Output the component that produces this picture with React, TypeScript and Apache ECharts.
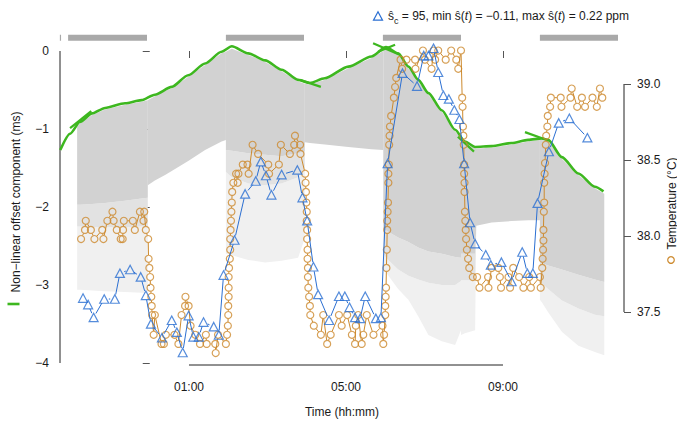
import { useEffect, useRef } from "react";
import * as echarts from "echarts";

// ---------- axes (time in hours; negative = previous evening) ----------
const X_MIN = -2.2866;
const X_MAX = 12.0828;
const OFFSET_MIN = -4;
const OFFSET_MAX = 0.3;
const TEMP_MIN = 37.1645;
const TEMP_MAX = 39.371;
const PPM_MIN = -0.1214;
const PPM_MAX = 0.2424;

const timeTickValues = [1, 5, 9];
const timeTickLabels = ["01:00", "05:00", "09:00"];
const offsetTickValues = [0, -1, -2, -3, -4];
const offsetTickLabels = ["0", "−1", "−2", "−3", "−4"];
const tempTickValues = [37.5, 38, 38.5, 39];
const tempTickLabels = ["37.5", "38.0", "38.5", "39.0"];

// ---------- dark periods (top bars) ----------
const darkPeriods: [number, number][] = [
  [-2.29, -2.26], [-2.08, -0.07], [1.94, 3.93], [5.94, 7.93], [9.94, 11.93],
];
const DARK_BAR_LEVEL = 0.17;

// ---------- non-linear offset component (ms) ----------
const fitCurve: [number, number][] = [
  [-2.28, -1.27], [-2.03, -1.06], [-1.78, -0.91], [-1.47, -0.8], [-1.14, -0.73],
  [-0.63, -0.67], [-0.21, -0.63], [0.13, -0.56], [0.56, -0.46], [0.98, -0.31],
  [1.41, -0.16], [1.83, -0.01], [2.09, 0.06], [2.51, -0.03], [2.94, -0.12],
  [3.36, -0.24], [3.78, -0.37], [4.08, -0.41], [4.46, -0.35], [5.06, -0.2],
  [5.65, -0.07], [6.02, 0.05], [6.33, -0.03], [6.59, -0.2], [6.84, -0.37],
  [7.1, -0.54], [7.44, -0.76], [7.78, -1.01], [8.03, -1.16], [8.29, -1.23],
  [8.71, -1.22], [9.22, -1.18], [9.64, -1.14], [9.99, -1.12], [10.15, -1.14],
  [10.5, -1.36], [10.92, -1.57], [11.34, -1.74], [11.56, -1.8],
];
// segment ends overshooting the joins: [t1, v1, t2, v2]
const fitOvershoots: [number, number, number, number][] = [
  [-2.03, -0.99, -1.49, -0.77],
  [3.83, -0.37, 4.36, -0.46],
  [5.69, 0.1, 6.38, -0.05],
  [5.82, -0.01, 6.25, 0.08],
  [7.85, -1.1, 8.26, -1.29],
  [9.56, -1.04, 10.17, -1.15],
];

// ---------- cloud of offset samples (ms), one list per 2-h block ----------
// rows: [time, cloud top, bottom of dense part, bottom of medium part, bottom of sparse part]
const cloudBlock1 = [
  [-1.85, -0.97, -1.97, -2.25, -3.06], [-1.78, -0.93, -1.97, -2.25, -3.06], [-1.47, -0.82, -1.96, -2.26, -3.07],
  [-1.14, -0.75, -1.95, -2.26, -3.08], [-0.63, -0.69, -1.92, -2.26, -3.09], [-0.21, -0.65, -1.89, -2.25, -3.1],
  [-0.05, -0.63, -1.88, -2.25, -3.1],
];
const cloudBlock2 = [
  [-0.05, -0.63, -1.72, -1.72, -1.72], [0.13, -0.58, -1.66, -1.66, -1.66], [0.39, -0.51, -1.59, -1.59, -1.59],
  [0.56, -0.48, -1.54, -1.54, -1.54], [0.98, -0.33, -1.41, -1.41, -1.41], [1.41, -0.18, -1.27, -1.27, -1.27],
  [1.83, -0.03, -1.16, -1.16, -1.16], [1.94, -0.01, -1.14, -1.14, -1.14],
];
const cloudBlock3 = [
  [1.94, -0.01, -1.27, -1.55, -2.6], [2.09, 0.03, -1.28, -1.62, -2.62], [2.51, -0.05, -1.31, -1.7, -2.68],
  [2.94, -0.14, -1.33, -1.72, -2.71], [3.36, -0.26, -1.35, -1.7, -2.69], [3.78, -0.39, -1.31, -1.62, -2.65],
  [3.95, -0.42, -1.29, -1.5, -2.4],
];
const cloudBlock4 = [
  [3.95, -0.42, -1.17, -1.17, -1.17], [4.08, -0.43, -1.18, -1.18, -1.18], [4.46, -0.37, -1.2, -1.2, -1.2],
  [5.06, -0.22, -1.23, -1.23, -1.23], [5.65, -0.09, -1.26, -1.26, -1.26], [5.95, 0.0, -1.27, -1.27, -1.27],
];
const cloudBlock5 = [
  [5.95, 0.0, -2.29, -2.6, -2.81], [6.02, 0.02, -2.3, -2.65, -2.84], [6.33, -0.05, -2.39, -2.8, -3.05],
  [6.59, -0.22, -2.45, -2.88, -3.19], [6.84, -0.39, -2.52, -2.93, -3.4], [7.1, -0.56, -2.57, -2.97, -3.64],
  [7.44, -0.78, -2.6, -3.0, -3.72], [7.78, -1.03, -2.64, -3.0, -3.77], [7.93, -1.12, -2.65, -2.95, -3.58],
];
const cloudBlock6 = [
  [7.93, -1.12, -2.6, -2.94, -3.64], [8.03, -1.18, -2.6, -2.94, -3.62], [8.29, -1.25, -2.6, -2.94, -3.58],
  [8.32, -1.25, -2.24, -2.24, -2.24], [8.71, -1.24, -2.2, -2.2, -2.2], [9.22, -1.2, -2.18, -2.18, -2.18],
  [9.64, -1.16, -2.17, -2.17, -2.17], [9.94, -1.14, -2.17, -2.17, -2.17],
];
const cloudBlock7 = [
  [9.94, -1.14, -2.71, -2.95, -3.19], [9.99, -1.14, -2.72, -2.98, -3.22], [10.15, -1.16, -2.75, -3.05, -3.35],
  [10.5, -1.38, -2.8, -3.2, -3.6], [10.92, -1.59, -2.87, -3.3, -3.78], [11.34, -1.76, -2.93, -3.38, -3.86],
  [11.58, -1.83, -2.96, -3.4, -3.9],
];
const cloudBlocks = [cloudBlock1, cloudBlock2, cloudBlock3, cloudBlock4, cloudBlock5, cloudBlock6, cloudBlock7];

// ---------- temperature (°C) ----------
const temperature: [number, number][] = [
  [-1.75, 37.98], [-1.65, 38.04], [-1.63, 38.1], [-1.5, 38.04], [-1.41, 37.98],
  [-1.21, 38.04], [-1.18, 37.98], [-1.08, 38.1], [-0.95, 38.16], [-0.92, 38.1],
  [-0.84, 38.04], [-0.74, 37.98], [-0.69, 37.98], [-0.68, 38.04], [-0.66, 38.1],
  [-0.43, 38.1], [-0.38, 38.04], [-0.25, 38.16], [-0.16, 38.1], [-0.14, 38.16],
  [-0.1, 38.04], [-0.04, 37.98], [-0.03, 37.85], [-0.01, 37.79], [0.01, 37.73],
  [0.02, 37.66], [0.04, 37.6], [0.05, 37.54], [0.06, 37.48], [0.1, 37.35],
  [0.13, 37.48], [0.3, 37.29], [0.36, 37.29], [0.41, 37.35], [0.63, 37.35],
  [0.73, 37.29], [0.81, 37.48], [0.9, 37.54], [0.91, 37.6], [0.99, 37.54],
  [1.04, 37.41], [1.16, 37.35], [1.28, 37.29], [1.43, 37.35], [1.45, 37.29],
  [1.67, 37.29], [1.68, 37.23], [1.74, 37.35], [1.94, 37.29], [1.97, 37.35],
  [1.99, 37.41], [2.0, 37.48], [2.0, 37.54], [2.01, 37.6], [2.01, 37.66],
  [2.01, 37.73], [2.02, 37.79], [2.04, 37.85], [2.05, 37.91], [2.05, 37.98],
  [2.06, 38.04], [2.07, 38.1], [2.08, 38.16], [2.09, 38.22], [2.1, 38.29],
  [2.13, 38.35], [2.2, 38.41], [2.24, 38.35], [2.26, 38.41], [2.37, 38.47],
  [2.49, 38.47], [2.52, 38.41], [2.62, 38.6], [2.76, 38.54], [3.02, 38.47],
  [3.04, 38.41], [3.29, 38.47], [3.34, 38.6], [3.57, 38.54], [3.68, 38.6],
  [3.7, 38.66], [3.83, 38.6], [3.84, 38.54], [3.96, 38.41], [3.97, 38.35],
  [3.98, 38.29], [3.99, 38.22], [4.0, 38.16], [4.0, 38.1], [4.01, 38.04],
  [4.01, 37.98], [4.02, 37.91], [4.02, 37.85], [4.03, 37.79], [4.03, 37.73],
  [4.04, 37.66], [4.06, 37.6], [4.08, 37.54], [4.09, 37.48], [4.18, 37.41],
  [4.36, 37.35], [4.42, 37.48], [4.52, 37.29], [4.61, 37.35], [4.82, 37.48],
  [4.89, 37.41], [5.03, 37.48], [5.15, 37.35], [5.23, 37.29], [5.25, 37.41],
  [5.31, 37.48], [5.4, 37.29], [5.44, 37.35], [5.53, 37.48], [5.7, 37.35],
  [5.93, 37.41], [5.95, 37.29], [5.97, 37.35], [6.0, 37.48], [6.0, 37.54],
  [6.01, 37.6], [6.02, 37.66], [6.03, 37.79], [6.04, 37.91], [6.05, 38.04],
  [6.05, 38.1], [6.06, 38.16], [6.07, 38.22], [6.08, 38.35], [6.08, 38.41],
  [6.09, 38.47], [6.1, 38.6], [6.11, 38.66], [6.12, 38.72], [6.15, 38.79],
  [6.22, 38.91], [6.25, 38.98], [6.28, 39.04], [6.39, 39.16], [6.43, 39.1],
  [6.54, 39.16], [6.76, 39.16], [6.77, 39.1], [6.96, 39.22], [7.01, 39.16],
  [7.18, 39.1], [7.23, 39.22], [7.27, 39.16], [7.35, 39.22], [7.54, 39.16],
  [7.68, 39.22], [7.81, 39.16], [7.86, 39.1], [7.93, 39.22], [7.96, 38.91],
  [7.97, 38.85], [7.98, 38.72], [7.99, 38.66], [8.0, 38.6], [8.01, 38.47],
  [8.01, 38.41], [8.02, 38.35], [8.02, 38.29], [8.03, 38.16], [8.04, 38.1],
  [8.05, 38.04], [8.06, 37.98], [8.08, 37.91], [8.11, 37.85], [8.14, 37.79],
  [8.23, 37.73], [8.34, 37.73], [8.4, 37.66], [8.62, 37.73], [8.63, 37.66],
  [8.71, 37.79], [8.88, 37.79], [8.92, 37.73], [8.95, 37.66], [9.14, 37.73],
  [9.18, 37.66], [9.26, 37.79], [9.41, 37.73], [9.52, 37.66], [9.67, 37.73],
  [9.71, 37.66], [9.94, 37.73], [9.96, 37.66], [10.0, 37.79], [10.01, 37.85],
  [10.02, 37.91], [10.03, 37.97], [10.03, 38.04], [10.04, 38.16], [10.05, 38.22],
  [10.05, 38.35], [10.06, 38.41], [10.07, 38.48], [10.09, 38.6], [10.1, 38.66],
  [10.13, 38.72], [10.14, 38.79], [10.2, 38.85], [10.22, 38.91], [10.47, 38.91],
  [10.49, 38.85], [10.72, 38.91], [10.75, 38.97], [10.89, 38.85], [11.01, 38.91],
  [11.09, 38.85], [11.28, 38.91], [11.39, 38.85], [11.47, 38.97], [11.53, 38.91],
];

// ---------- ŝ(t) (ppm) ----------
const sHat: [number, number][] = [
  [-1.7, -0.051], [-1.57, -0.058], [-1.43, -0.072], [-1.16, -0.052], [-0.89, -0.052],
  [-0.76, -0.024], [-0.5, -0.02], [-0.23, -0.028], [-0.1, -0.048], [0.03, -0.079],
  [0.31, -0.094], [0.56, -0.075], [0.69, -0.088], [0.84, -0.11], [0.99, -0.07],
  [1.11, -0.093], [1.25, -0.093], [1.37, -0.077], [1.63, -0.082], [1.76, -0.091],
  [1.88, -0.026], [2.16, 0.012], [2.43, 0.062], [2.7, 0.076], [2.83, 0.097],
  [2.96, 0.082], [3.1, 0.061], [3.36, 0.083], [3.76, 0.088], [3.89, 0.058],
  [4.01, 0.033], [4.17, -0.017], [4.29, -0.047], [4.57, -0.075], [4.82, -0.049],
  [4.97, -0.049], [5.09, -0.061], [5.23, -0.072], [5.36, -0.073], [5.49, -0.049],
  [5.76, -0.073], [5.89, -0.072], [6.06, 0.095], [6.44, 0.193], [6.81, 0.179],
  [6.98, 0.212], [7.1, 0.212], [7.23, 0.22], [7.35, 0.194], [7.48, 0.169],
  [7.62, 0.165], [7.76, 0.153], [7.89, 0.143], [8.01, 0.095], [8.16, 0.031],
  [8.29, 0.008], [8.56, -0.004], [8.69, -0.015], [8.96, -0.012], [9.22, -0.033],
  [9.49, -0.001], [9.62, -0.024], [9.76, -0.024], [9.88, 0.052], [10.17, 0.108],
  [10.42, 0.139], [10.69, 0.144], [11.15, 0.123],
];

const GREEN = "#3db71f";
const BLUE = "#2b6fd2";
const ORANGE = "#cd8a2e";
const FONT = "'Liberation Sans', Arial, Helvetica, sans-serif";
const TEXT = "#1a1a1a";

const pairs = (pts: [number, number][]) => {
  const out: number[][] = [];
  for (let i = 0; i < pts.length - 1; i++) out.push([pts[i][0], pts[i][1], pts[i + 1][0], pts[i + 1][1]]);
  return out;
};

// line segments with gaps around the symbols (R type = "b")
const gapLineSeries = (pts: [number, number][], yAxisIndex: number, color: string, gap: number, z: number) => ({
  type: "custom",
  yAxisIndex,
  z,
  silent: true,
  clip: false,
  data: pairs(pts),
  encode: { x: [0, 2], y: [1, 3] },
  renderItem: (_p: any, api: any) => {
    const a = api.coord([api.value(0), api.value(1)]);
    const b = api.coord([api.value(2), api.value(3)]);
    const dx = b[0] - a[0];
    const dy = b[1] - a[1];
    const d = Math.hypot(dx, dy);
    if (d <= 2 * gap + 0.5) return { type: "group", children: [] };
    const ux = dx / d;
    const uy = dy / d;
    return {
      type: "line",
      shape: { x1: a[0] + ux * gap, y1: a[1] + uy * gap, x2: b[0] - ux * gap, y2: b[1] - uy * gap },
      style: { stroke: color, lineWidth: 1, fill: null },
    };
  },
});

// band of one cloud block between two of its columns
const cloudBandSeries = (upper: number, lower: number, fill: string, z: number) => ({
  type: "custom",
  z,
  silent: true,
  clip: false,
  data: cloudBlocks.map((b, i) => [b[0][0], b[0][upper], i]),
  renderItem: (params: any, api: any) => {
    const block = cloudBlocks[params.dataIndex];
    const points: number[][] = [];
    for (const r of block) {
      const c = api.coord([r[0], r[upper]]);
      points.push([c[0], c[1]]);
    }
    for (let i = block.length - 1; i >= 0; i--) {
      const c = api.coord([block[i][0], block[i][lower]]);
      points.push([c[0], c[1]]);
    }
    return { type: "polygon", shape: { points }, style: { fill, stroke: null } };
  },
});

const labelFrom = (values: number[], labels: string[]) => (v: number) => {
  const i = values.findIndex((x) => Math.abs(x - v) < 1e-9);
  return i >= 0 ? labels[i] : "";
};

export default function App() {
  const ref = useRef<HTMLDivElement>(null);

  useEffect(() => {
    document.body.style.margin = "0";
    const chart = echarts.init(ref.current!, null, { renderer: "svg", width: 677, height: 421 });

    const option: any = {
      animation: false,
      grid: { left: 60, right: 53, top: 27.6, bottom: 58 },
      xAxis: {
        type: "value",
        min: X_MIN,
        max: X_MAX,
        offset: 2,
        axisLine: { show: false },
        splitLine: { show: false },
        axisTick: { show: true, length: 7, customValues: timeTickValues, lineStyle: { color: "#555", width: 1 } },
        axisLabel: {
          show: true,
          customValues: timeTickValues,
          margin: 16,
          fontSize: 12,
          fontFamily: FONT,
          color: TEXT,
          formatter: labelFrom(timeTickValues, timeTickLabels),
        },
      },
      yAxis: [
        {
          type: "value",
          min: OFFSET_MIN,
          max: OFFSET_MAX,
          position: "left",
          axisLine: { show: false },
          splitLine: { show: false },
          axisTick: { show: true, length: 7, customValues: offsetTickValues, lineStyle: { color: "#555", width: 1 } },
          axisLabel: {
            show: true,
            customValues: offsetTickValues,
            margin: 11,
            fontSize: 12,
            fontFamily: FONT,
            color: TEXT,
            formatter: labelFrom(offsetTickValues, offsetTickLabels),
          },
        },
        {
          type: "value",
          min: TEMP_MIN,
          max: TEMP_MAX,
          position: "right",
          axisLine: { show: false },
          splitLine: { show: false },
          axisTick: { show: true, length: 7, customValues: tempTickValues, lineStyle: { color: "#555", width: 1 } },
          axisLabel: {
            show: true,
            customValues: tempTickValues,
            margin: 13,
            fontSize: 12,
            fontFamily: FONT,
            color: TEXT,
            formatter: labelFrom(tempTickValues, tempTickLabels),
          },
        },
        { type: "value", min: PPM_MIN, max: PPM_MAX, show: false },
      ],
      series: [
        cloudBandSeries(3, 4, "#f0f0f0", 1),
        cloudBandSeries(2, 3, "#e2e2e2", 1),
        cloudBandSeries(1, 2, "#d2d2d2", 1),
        {
          type: "custom",
          z: 2,
          silent: true,
          clip: false,
          data: darkPeriods.map(([s, e]) => [s, e, DARK_BAR_LEVEL]),
          encode: { x: [0, 1], y: 2 },
          renderItem: (_p: any, api: any) => {
            const a = api.coord([api.value(0), api.value(2)]);
            const b = api.coord([api.value(1), api.value(2)]);
            return { type: "rect", shape: { x: a[0], y: a[1] - 3, width: b[0] - a[0], height: 6 }, style: { fill: "#a9a9a9" } };
          },
        },
        {
          type: "line",
          z: 3,
          silent: true,
          data: fitCurve,
          symbol: "none",
          smooth: 0.25,
          smoothMonotone: "x",
          lineStyle: { color: GREEN, width: 2.6 },
        },
        {
          type: "custom",
          z: 3,
          silent: true,
          data: fitOvershoots,
          encode: { x: [0, 2], y: [1, 3] },
          renderItem: (_p: any, api: any) => {
            const a = api.coord([api.value(0), api.value(1)]);
            const b = api.coord([api.value(2), api.value(3)]);
            return { type: "line", shape: { x1: a[0], y1: a[1], x2: b[0], y2: b[1] }, style: { stroke: GREEN, lineWidth: 2.2, fill: null } };
          },
        },
        gapLineSeries(temperature, 1, ORANGE, 3.8, 4),
        {
          type: "scatter",
          yAxisIndex: 1,
          z: 4,
          silent: true,
          data: temperature,
          symbol: "circle",
          symbolSize: 7,
          itemStyle: { color: "rgba(0,0,0,0)", borderColor: ORANGE, borderWidth: 1.2 },
        },
        gapLineSeries(sHat, 2, BLUE, 4.6, 5),
        {
          type: "scatter",
          yAxisIndex: 2,
          z: 5,
          silent: true,
          data: sHat,
          symbol: "triangle",
          symbolSize: [9, 8.5],
          itemStyle: { color: "rgba(0,0,0,0)", borderColor: BLUE, borderWidth: 1.2 },
        },
      ],
    };
    chart.setOption(option);

    const xp = (v: number) => chart.convertToPixel({ xAxisIndex: 0 }, v) as number;
    const y0 = (v: number) => chart.convertToPixel({ yAxisIndex: 0 }, v) as number;
    const y1 = (v: number) => chart.convertToPixel({ yAxisIndex: 1 }, v) as number;
    const axisStroke = { stroke: "#222", lineWidth: 1 };
    const bottomY = y0(OFFSET_MIN) + 2;

    chart.setOption({
      graphic: [
        { type: "line", shape: { x1: xp(timeTickValues[0]), y1: bottomY, x2: xp(timeTickValues[timeTickValues.length - 1]), y2: bottomY }, style: axisStroke },
        { type: "line", shape: { x1: xp(X_MIN), y1: y0(offsetTickValues[0]), x2: xp(X_MIN), y2: y0(offsetTickValues[offsetTickValues.length - 1]) }, style: axisStroke },
        { type: "line", shape: { x1: xp(X_MAX), y1: y1(tempTickValues[tempTickValues.length - 1]), x2: xp(X_MAX), y2: y1(tempTickValues[0]) }, style: axisStroke },
        {
          type: "text",
          x: 342,
          y: 412,
          style: { text: "Time (hh:mm)", fill: TEXT, font: `12px ${FONT}`, textAlign: "center", textVerticalAlign: "middle" },
        },
        {
          type: "text",
          x: 15.5,
          y: 202,
          rotation: Math.PI / 2,
          style: { text: "Non−linear offset component (ms)", fill: TEXT, font: `12px ${FONT}`, textAlign: "center", textVerticalAlign: "middle" },
        },
        { type: "line", shape: { x1: 7.5, y1: 304, x2: 19.5, y2: 304 }, style: { stroke: GREEN, lineWidth: 2.6 } },
        {
          type: "text",
          x: 671.5,
          y: 203.5,
          rotation: Math.PI / 2,
          style: { text: "Temperature (°C)", fill: TEXT, font: `12px ${FONT}`, textAlign: "center", textVerticalAlign: "middle" },
        },
        { type: "circle", shape: { cx: 671, cy: 260, r: 3.3 }, style: { fill: "none", stroke: ORANGE, lineWidth: 1.2 } },
        { type: "polygon", shape: { points: [[373.5, 20.2], [382.5, 20.2], [378, 11.8]] }, style: { fill: "none", stroke: BLUE, lineWidth: 1.2 } },
        {
          type: "text",
          x: 388,
          y: 16,
          style: {
            text: "{n|ŝ}{sub|c}{n| = 95, min ŝ(}{i|t}{n|) = −0.11, max ŝ(}{i|t}{n|) = 0.22 ppm}",
            fill: TEXT,
            font: `12px ${FONT}`,
            textAlign: "left",
            textVerticalAlign: "middle",
            rich: {
              n: { fontSize: 12, fontFamily: FONT, lineHeight: 18, verticalAlign: "middle", fill: TEXT },
              i: { fontSize: 12, fontFamily: FONT, fontStyle: "italic", lineHeight: 18, verticalAlign: "middle", fill: TEXT },
              sub: { fontSize: 9, fontFamily: FONT, lineHeight: 12, verticalAlign: "bottom", fill: TEXT },
            },
          },
        },
      ],
    });

    return () => chart.dispose();
  }, []);

  return <div ref={ref} style={{ width: 677, height: 421 }} />;
}
